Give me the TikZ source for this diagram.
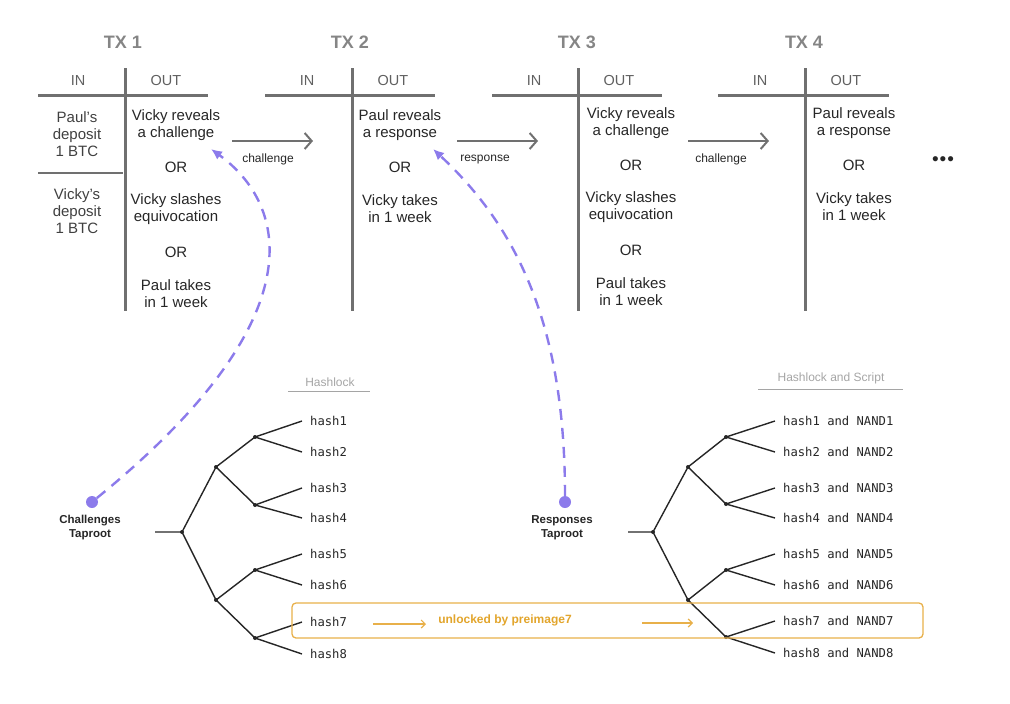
\documentclass[tikz,border=0pt]{standalone}
\usepackage{fontspec}
\setmainfont{Liberation Sans}
\setmonofont{DejaVu Sans Mono}
\usepackage{xcolor}
\usepackage{tikz}
\usetikzlibrary{positioning, arrows.meta, calc}

\definecolor{ink}{HTML}{262626}
\definecolor{txgrey}{HTML}{707070}
\definecolor{headgrey}{HTML}{858585}
\definecolor{colgrey}{HTML}{606060}
\definecolor{ingrey}{HTML}{404040}
\definecolor{rulegrey}{HTML}{A5A5A5}
\definecolor{lilac}{HTML}{8C7BEB}
\definecolor{gold}{HTML}{E8B04A}
\definecolor{goldtext}{HTML}{E2A52C}

\begin{document}
\begin{tikzpicture}[x=1pt, y=-1pt, >=Latex,
  txhead/.style={font=\fontsize{18}{20}\selectfont\bfseries, text=headgrey},
  colhead/.style={font=\fontsize{14.5}{16}\selectfont, text=colgrey},
  cell/.style={align=center, font=\fontsize{15}{17}\selectfont, text=ink},
  txline/.style={line width=3pt, draw=txgrey},
  pass/.style={line width=2pt, draw=txgrey, -{Straight Barb[length=7pt,width=16pt]}},
  passlabel/.style={font=\fontsize{12}{14}\selectfont, text=ink},
  hint/.style={dashed, dash pattern=on 11pt off 8pt, line width=2.4pt, draw=lilac, -{Latex[length=11pt,width=10pt]}},
  root/.style={circle, fill=lilac, inner sep=0pt, minimum size=12pt},
  rootlabel/.style={align=center, font=\fontsize{11.5}{14}\selectfont\bfseries, text=ink},
  knot/.style={circle, fill=ink, inner sep=0pt, minimum size=4pt},
  branch/.style={line width=1.4pt, draw=ink},
  leaf/.style={anchor=west, inner xsep=8pt, font=\ttfamily\fontsize{12.2}{14}\selectfont, text=ink},
  treehead/.style={font=\fontsize{12}{14}\selectfont, text=rulegrey},
  unlock/.style={line width=1.2pt, draw=gold, -{Straight Barb[length=4pt,width=8pt]}}]
  \useasboundingbox (0,0) rectangle (1010,704);

  % transactions
  \node[txhead] (tx1) at (123,42) {TX 1};
  \node[txhead] (tx2) at (350,42) {TX 2};
  \node[txhead] (tx3) at (577,42) {TX 3};
  \node[txhead] (tx4) at (804,42) {TX 4};

  \node[colhead] (in1) at (78,81) {IN};   \node[colhead] (out1) at (166,81) {OUT};
  \node[colhead] (in2) at (307,81) {IN};  \node[colhead] (out2) at (393,81) {OUT};
  \node[colhead] (in3) at (534,81) {IN};  \node[colhead] (out3) at (619,81) {OUT};
  \node[colhead] (in4) at (760,81) {IN};  \node[colhead] (out4) at (846,81) {OUT};

  \draw[txline] (125,68) -- (125,311);  \draw[txline] (38,95) -- (208,95);
  \draw[txline] (352,68) -- (352,311);  \draw[txline] (265,95) -- (435,95);
  \draw[txline] (578,68) -- (578,311);  \draw[txline] (492,95) -- (662,95);
  \draw[txline] (805,68) -- (805,311);  \draw[txline] (718,95) -- (889,95);
  \draw[line width=1.8pt, draw=txgrey] (38,173) -- (123,173);

  \node[cell, text=ingrey] (paul) at (77,134) {Paul’s\\deposit\\1 BTC};
  \node[cell, text=ingrey] (vicky) at (77,211) {Vicky’s\\deposit\\1 BTC};

  \node[cell] (ch1) at (176,125) {Vicky reveals\\a challenge};
  \node[cell] (or11) at (176,167) {OR};
  \node[cell] (sl1) at (176,209) {Vicky slashes\\equivocation};
  \node[cell] (or12) at (176,252) {OR};
  \node[cell] (pt1) at (176,294) {Paul takes\\in 1 week};

  \node[cell] (rs2) at (400,125) {Paul reveals\\a response};
  \node[cell] (or21) at (400,167) {OR};
  \node[cell] (vt2) at (400,209) {Vicky takes\\in 1 week};

  \node[cell] (ch3) at (631,123) {Vicky reveals\\a challenge};
  \node[cell] (or31) at (631,165) {OR};
  \node[cell] (sl3) at (631,207) {Vicky slashes\\equivocation};
  \node[cell] (or32) at (631,250) {OR};
  \node[cell] (pt3) at (631,292) {Paul takes\\in 1 week};

  \node[cell] (rs4) at (854,123) {Paul reveals\\a response};
  \node[cell] (or41) at (854,165) {OR};
  \node[cell] (vt4) at (854,207) {Vicky takes\\in 1 week};

  \node[font=\fontsize{19}{19}\selectfont, text=ink] (more) at (943,161) {•\hspace{1pt}•\hspace{1pt}•};

  \coordinate (p1s) at (232,141);  \coordinate (p1e) at (313,141);
  \coordinate (p2s) at (457,141);  \coordinate (p2e) at (538,141);
  \coordinate (p3s) at (688,141);  \coordinate (p3e) at (769,141);
  \draw[pass] (p1s) -- (p1e);
  \draw[pass] (p2s) -- (p2e);
  \draw[pass] (p3s) -- (p3e);
  \node[passlabel] (l1) at (268,159) {challenge};
  \node[passlabel] (l2) at (485,160) {response};
  \node[passlabel] (l3) at (721,159) {challenge};

  % taproot trees
  \node[root] (cdot) at (92,502) {};
  \node[rootlabel] (ctap) at (90,528) {Challenges\\Taproot};
  \node[root] (rdot) at (565,502) {};
  \node[rootlabel] (rtap) at (562,528) {Responses\\Taproot};

  \coordinate (chtip) at (211,149);
  \coordinate (rstip) at (433,149);
  \draw[hint] (cdot) .. controls (318,318) and (288,205) .. (chtip);
  \draw[hint] (rdot) .. controls (565,330) and (520,230) .. (rstip);

  \node[treehead] (hl) at (330,382) {Hashlock};
  \draw[rulegrey, line width=1pt] ([xshift=-14pt,yshift=-2pt]hl.south west) -- ([xshift=12pt,yshift=-2pt]hl.south east);
  \node[treehead] (hls) at (831,378) {Hashlock and Script};
  \draw[rulegrey, line width=1pt] ([xshift=-16pt,yshift=-2pt]hls.south west) -- ([xshift=15pt,yshift=-2pt]hls.south east);

  \coordinate (cstem) at (155,532);
  \node[knot] (cr) at (182,532) {};
  \node[knot] (ca) at (216,467) {};
  \node[knot] (cb) at (216,600) {};
  \node[knot] (caa) at (255,437) {};
  \node[knot] (cab) at (255,505) {};
  \node[knot] (cba) at (255,570) {};
  \node[knot] (cbb) at (255,638) {};
  \node[leaf] (c1) at (302,421) {hash1};
  \node[leaf] (c2) at (302,452) {hash2};
  \node[leaf] (c3) at (302,488) {hash3};
  \node[leaf] (c4) at (302,518) {hash4};
  \node[leaf] (c5) at (302,554) {hash5};
  \node[leaf] (c6) at (302,585) {hash6};
  \node[leaf] (c7) at (302,622) {hash7};
  \node[leaf] (c8) at (302,654) {hash8};
  \draw[branch] (cstem) -- (cr.center) -- (ca.center) -- (caa.center) -- (c1.west);
  \draw[branch] (caa.center) -- (c2.west);
  \draw[branch] (ca.center) -- (cab.center) -- (c3.west);
  \draw[branch] (cab.center) -- (c4.west);
  \draw[branch] (cr.center) -- (cb.center) -- (cba.center) -- (c5.west);
  \draw[branch] (cba.center) -- (c6.west);
  \draw[branch] (cb.center) -- (cbb.center) -- (c7.west);
  \draw[branch] (cbb.center) -- (c8.west);

  \coordinate (rstem) at (628,532);
  \node[knot] (rr) at (653,532) {};
  \node[knot] (ra) at (688,467) {};
  \node[knot] (rb) at (688,600) {};
  \node[knot] (raa) at (726,437) {};
  \node[knot] (rab) at (726,504) {};
  \node[knot] (rba) at (726,570) {};
  \node[knot] (rbb) at (726,637) {};
  \node[leaf] (r1) at (775,421) {hash1 and NAND1};
  \node[leaf] (r2) at (775,452) {hash2 and NAND2};
  \node[leaf] (r3) at (775,488) {hash3 and NAND3};
  \node[leaf] (r4) at (775,518) {hash4 and NAND4};
  \node[leaf] (r5) at (775,554) {hash5 and NAND5};
  \node[leaf] (r6) at (775,585) {hash6 and NAND6};
  \node[leaf] (r7) at (775,621) {hash7 and NAND7};
  \node[leaf] (r8) at (775,653) {hash8 and NAND8};
  \draw[branch] (rstem) -- (rr.center) -- (ra.center) -- (raa.center) -- (r1.west);
  \draw[branch] (raa.center) -- (r2.west);
  \draw[branch] (ra.center) -- (rab.center) -- (r3.west);
  \draw[branch] (rab.center) -- (r4.west);
  \draw[branch] (rr.center) -- (rb.center) -- (rba.center) -- (r5.west);
  \draw[branch] (rba.center) -- (r6.west);
  \draw[branch] (rb.center) -- (rbb.center) -- (r7.west);
  \draw[branch] (rbb.center) -- (r8.west);

  % unlocked path
  \node[draw=gold, line width=1.3pt, rounded corners=4pt, minimum width=631pt, minimum height=35pt] (ubox) at (607.5,620.5) {};
  \node[font=\fontsize{12}{14}\selectfont\bfseries, text=goldtext] (ul) at (505,620) {unlocked by preimage7};
  \coordinate (u1s) at (373,624);  \coordinate (u1e) at (426,624);
  \coordinate (u2s) at (642,623);  \coordinate (u2e) at (693,623);
  \draw[unlock] (u1s) -- (u1e);
  \draw[unlock] (u2s) -- (u2e);
\end{tikzpicture}
\end{document}
